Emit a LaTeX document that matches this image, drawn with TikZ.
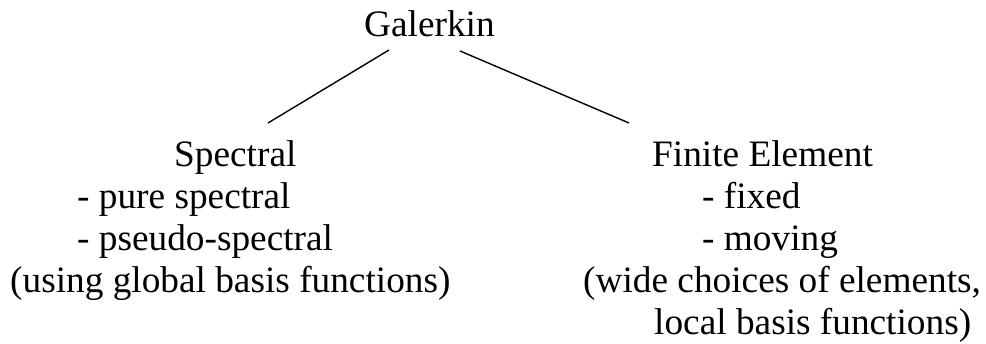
\documentclass[tikz,border=0pt]{standalone}
\usepackage{fontspec}
\setmainfont{Liberation Serif}
\begin{document}
\begin{tikzpicture}[x=1pt,y=1pt,
  lbl/.style={anchor=base west,inner sep=0pt,font=\fontsize{37.3}{42}\selectfont},
  branch/.style={line width=1.4pt}]
\useasboundingbox (0,0) rectangle (986,344);
\node[lbl] (gal) at (364,{344-37}) {Galerkin};
\node[lbl] (spec) at (174,{344-167}) {Spectral};
\node[lbl] (pure) at (77,{344-209}) {- pure spectral};
\node[lbl] (pseudo) at (77,{344-251}) {- pseudo-spectral};
\node[lbl] (glob) at (10,{344-293}) {(using global basis functions)};
\node[lbl] (fe) at (652,{344-167}) {Finite Element};
\node[lbl] (fixed) at (702,{344-209}) {- fixed};
\node[lbl] (moving) at (702,{344-251}) {- moving};
\node[lbl] (wide) at (583,{344-293}) {(wide choices of elements,};
\node[lbl] (local) at (654,{344-335}) {local basis functions)};
\coordinate (gl) at (389,{344-50});
\coordinate (gr) at (460,{344-51});
\coordinate (sl) at (268,{344-123});
\coordinate (fr) at (629,{344-123});
\draw[branch] (gl) -- (sl);
\draw[branch] (gr) -- (fr);
\end{tikzpicture}
\end{document}
